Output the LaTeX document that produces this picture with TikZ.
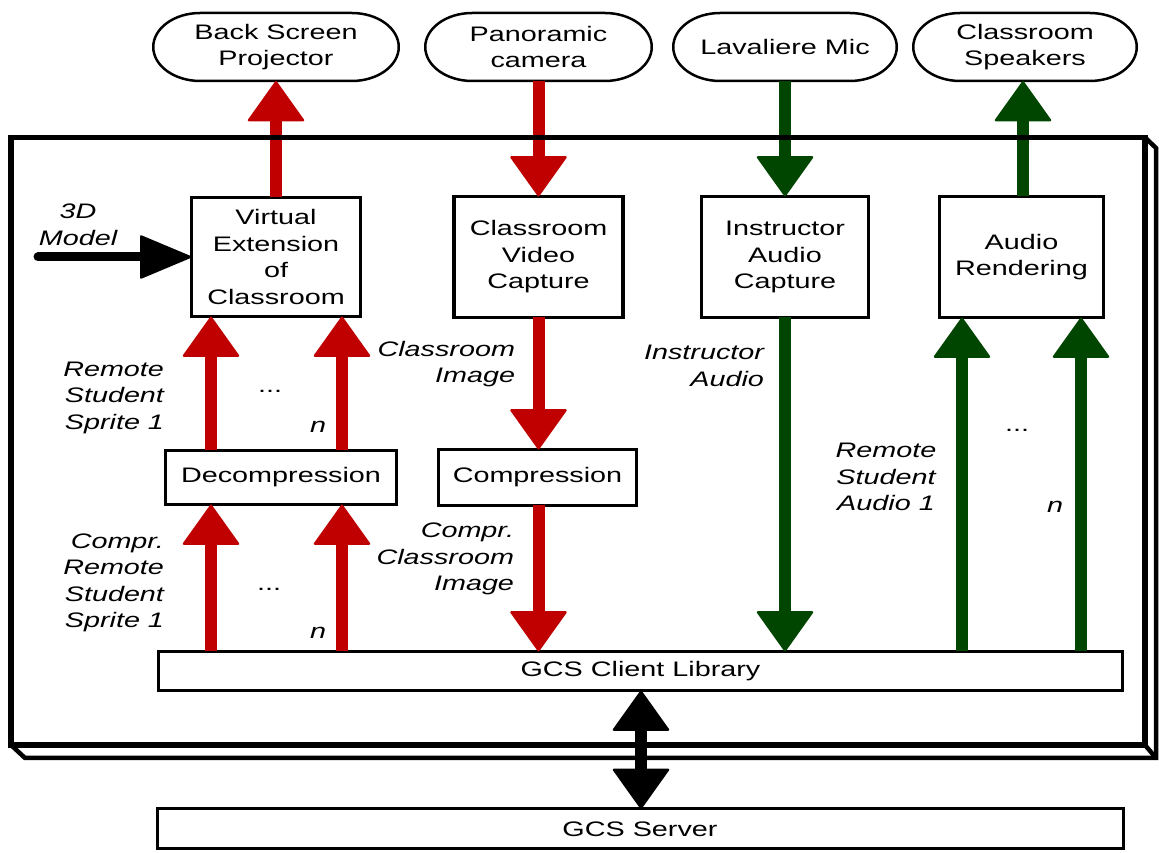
\documentclass[tikz,border=0pt]{standalone}
\usepackage{fontspec}
\setmainfont{Liberation Sans}[FakeStretch=1.37]
\usetikzlibrary{arrows.meta,calc}
\definecolor{ared}{RGB}{192,0,0}
\definecolor{agreen}{RGB}{0,70,0}
\begin{document}
\begin{tikzpicture}[x=1pt,y=1pt,
  every node/.style={font=\fontsize{21}{26.5}\selectfont, inner sep=0pt, outer sep=0pt},
  pbox/.style={draw, line width=3.5pt, align=center},
  term/.style={align=center, minimum height=68pt},
  tbord/.style={line width=2.5pt},
  lbl/.style={font=\fontsize{21}{26.5}\selectfont\itshape, align=right, anchor=east},
  dots/.style={font=\fontsize{21}{26.5}\selectfont},
  redarr/.style={draw=ared, line width=12pt, -{Triangle[length=41pt, width=58pt, line width'=2pt, round]}},
  grnarr/.style={draw=agreen, line width=12pt, -{Triangle[length=41pt, width=58pt, line width'=2pt, round]}},
  blkdbl/.style={draw=black, line width=12pt, {Triangle[length=41pt, width=58pt, line width'=2pt, round]}-{Triangle[length=41pt, width=58pt, line width'=2pt, round]}},
  blkh/.style={draw=black, line width=9pt, line cap=round, -{Triangle[length=53pt, width=44pt, line width'=2pt, round]}}
]
\fill[white] (0,0) rectangle (1159,853);
\useasboundingbox (0,0) rectangle (1159,853);

% x positions of parallel connectors
\coordinate (xa) at (211,0);
\coordinate (xb) at (342,0);
\coordinate (xv) at (538.5,0);
\coordinate (xc) at (962,0);
\coordinate (xd) at (1081,0);
\coordinate (xs) at (1023,0);
\coordinate (xg) at (641,0);
\coordinate (m0) at (38,596);

% terminals
\node[term, minimum width=245.5pt] (bsp) at (276,806) {Back Screen\\Projector};
\node[term, minimum width=226.5pt] (pan) at (538.5,806) {Panoramic\\camera};
\node[term, minimum width=223.5pt] (lav) at (785,806) {Lavaliere Mic};
\node[term, minimum width=223.5pt] (spk) at (1025,806) {Classroom\\Speakers};
\foreach \n/\w in {bsp/245.5,pan/226.5,lav/223.5,spk/223.5}{
  \draw[tbord] ($(\n)+(-\w/2+47,34)$) -- ($(\n)+(\w/2-47,34)$)
    arc[start angle=90,end angle=-90,x radius=47,y radius=34]
    -- ($(\n)+(-\w/2+47,-34)$)
    arc[start angle=270,end angle=90,x radius=47,y radius=34] -- cycle;
}

% process boxes
\node[pbox, minimum width=169pt, minimum height=119pt] (vext) at (276,596) {Virtual\\Extension\\of\\Classroom};
\node[pbox, minimum width=169pt, minimum height=121pt] (cvc) at (538.5,596) {Classroom\\Video\\Capture};
\node[pbox, minimum width=167pt, minimum height=121pt] (iac) at (785,596) {Instructor\\Audio\\Capture};
\node[pbox, minimum width=164pt, minimum height=121pt] (arend) at (1021.5,596) {Audio\\Rendering};
\node[pbox, minimum width=231pt, minimum height=54pt] (dec) at (281,375.5) {Decompression};
\node[pbox, minimum width=198pt, minimum height=56pt] (comp) at (537.5,375.5) {Compression};
\node[pbox, line width=3pt, minimum width=964pt, minimum height=39pt] (gcsc) at (640.5,182) {GCS Client Library};
\node[pbox, line width=3pt, minimum width=966pt, minimum height=40pt] (gcss) at (640,24) {GCS Server};

% labels
\node[lbl, anchor=center, align=center] (l3d) at (78,628) {3D\\Model};
\node[lbl] (lrss) at (164,455.5) {Remote\\Student\\Sprite 1};
\node[dots] (d1) at (270,462) {...};
\node[lbl, anchor=center] (n1) at (318,426) {n};
\node[lbl] (lcrss) at (164,270) {Compr.\\Remote\\Student\\Sprite 1};
\node[dots] (d2) at (269,264) {...};
\node[lbl, anchor=center] (n2) at (318,220) {n};
\node[lbl] (lci) at (515,489) {Classroom\\Image};
\node[lbl] (lcci) at (514,294) {Compr.\\Classroom\\Image};
\node[lbl] (lia) at (764,487) {Instructor\\Audio};
\node[lbl, anchor=center, align=center] (lrsa) at (886,376) {Remote\\Student\\Audio 1};
\node[dots] (d3) at (1017,423) {...};
\node[lbl, anchor=center] (n3) at (1055,346) {n};

% connectors
\draw[redarr] (vext.north) -- (bsp.south);
\draw[redarr] (pan.south -| xv) -- (cvc.north -| xv);
\draw[grnarr] (lav.south) -- (iac.north);
\draw[grnarr] (arend.north -| xs) -- (spk.south -| xs);
\draw[redarr] (dec.north -| xa) -- (vext.south -| xa);
\draw[redarr] (dec.north -| xb) -- (vext.south -| xb);
\draw[redarr] (gcsc.north -| xa) -- (dec.south -| xa);
\draw[redarr] (gcsc.north -| xb) -- (dec.south -| xb);
\draw[redarr] (cvc.south -| xv) -- (comp.north -| xv);
\draw[redarr] (comp.south -| xv) -- (gcsc.north -| xv);
\draw[grnarr] (iac.south) -- (iac.south |- gcsc.north);
\draw[grnarr] (gcsc.north -| xc) -- (arend.south -| xc);
\draw[grnarr] (gcsc.north -| xd) -- (arend.south -| xd);
\draw[blkh] (m0) -- (vext.west |- m0);
\draw[blkdbl] (gcsc.south -| xg) -- (gcss.north -| xg);

% enclosing 3D box
\draw[line width=5.5pt] (11,108) rectangle (1145,715.5);
\draw[line width=4.5pt, line join=miter] (11,108) -- (25,95) -- (1156,95) -- (1156,705) -- (1145,715.5);
\draw[line width=4.5pt] (1145,108) -- (1156,95);
\end{tikzpicture}
\end{document}
